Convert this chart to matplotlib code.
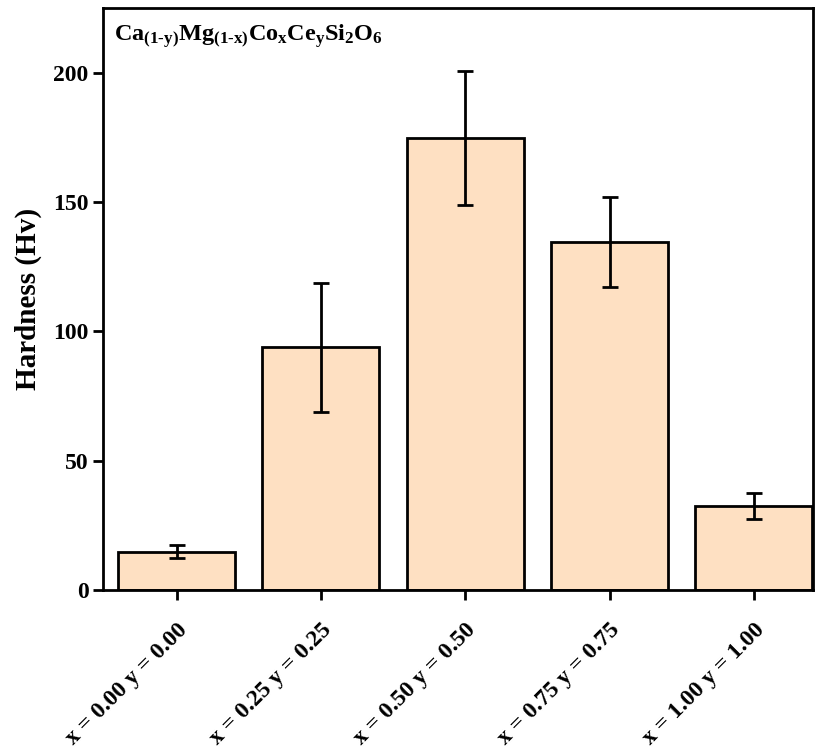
import numpy as np
import matplotlib
matplotlib.use('Agg')
import matplotlib.pyplot as plt

# Hardness data
labels = ['x = 0.00 y = 0.00', 'x = 0.25 y = 0.25', 'x = 0.50 y = 0.50',
          'x = 0.75 y = 0.75', 'x = 1.00 y = 1.00']
hardness = [14.7, 93.8, 174.8, 134.5, 32.5]
errors = [2.5, 25.0, 26.0, 17.5, 5.0]
yticks = [0, 50, 100, 150, 200]

plt.rcParams['font.family'] = 'Liberation Serif'
plt.rcParams['font.weight'] = 'bold'
plt.rcParams['mathtext.fontset'] = 'custom'
plt.rcParams['mathtext.rm'] = 'Liberation Serif'
plt.rcParams['mathtext.bf'] = 'Liberation Serif:bold'

fig = plt.figure(figsize=(8.15, 7.53), dpi=100)
ax = fig.add_axes([0.1264, 0.2165, 0.8711, 0.7729])

x = np.arange(len(labels))
ax.bar(x, hardness, width=0.81, color='#FEE0C2', edgecolor='black', linewidth=2)
ax.errorbar(x, hardness, yerr=errors, fmt='none', ecolor='black',
            elinewidth=2, capsize=6, capthick=2)

ax.set_xlim(-0.51, 4.41)
ax.set_ylim(0, 225)
ax.set_yticks(yticks)
ax.set_xticks(x)
ax.set_xticklabels(labels, rotation=45, ha='right', rotation_mode='anchor',
                   fontsize=17, fontweight='bold')
ax.tick_params(axis='both', direction='out', width=2, length=7, labelsize=17)
ax.tick_params(axis='x', pad=14)
for s in ax.spines.values():
    s.set_linewidth(2)

ax.set_ylabel('Hardness (Hv)', fontsize=21, fontweight='bold', labelpad=8)

# hyphen (U+2010) instead of mathtext minus
ax.text(0.016, 0.975,
        '$\\mathbf{Ca_{(1\u2010y)}Mg_{(1\u2010x)}Co_{x}Ce_{y}Si_{2}O_{6}}$',
        transform=ax.transAxes, fontsize=17.5, va='top', ha='left')

fig.savefig('out.png', dpi=100)
